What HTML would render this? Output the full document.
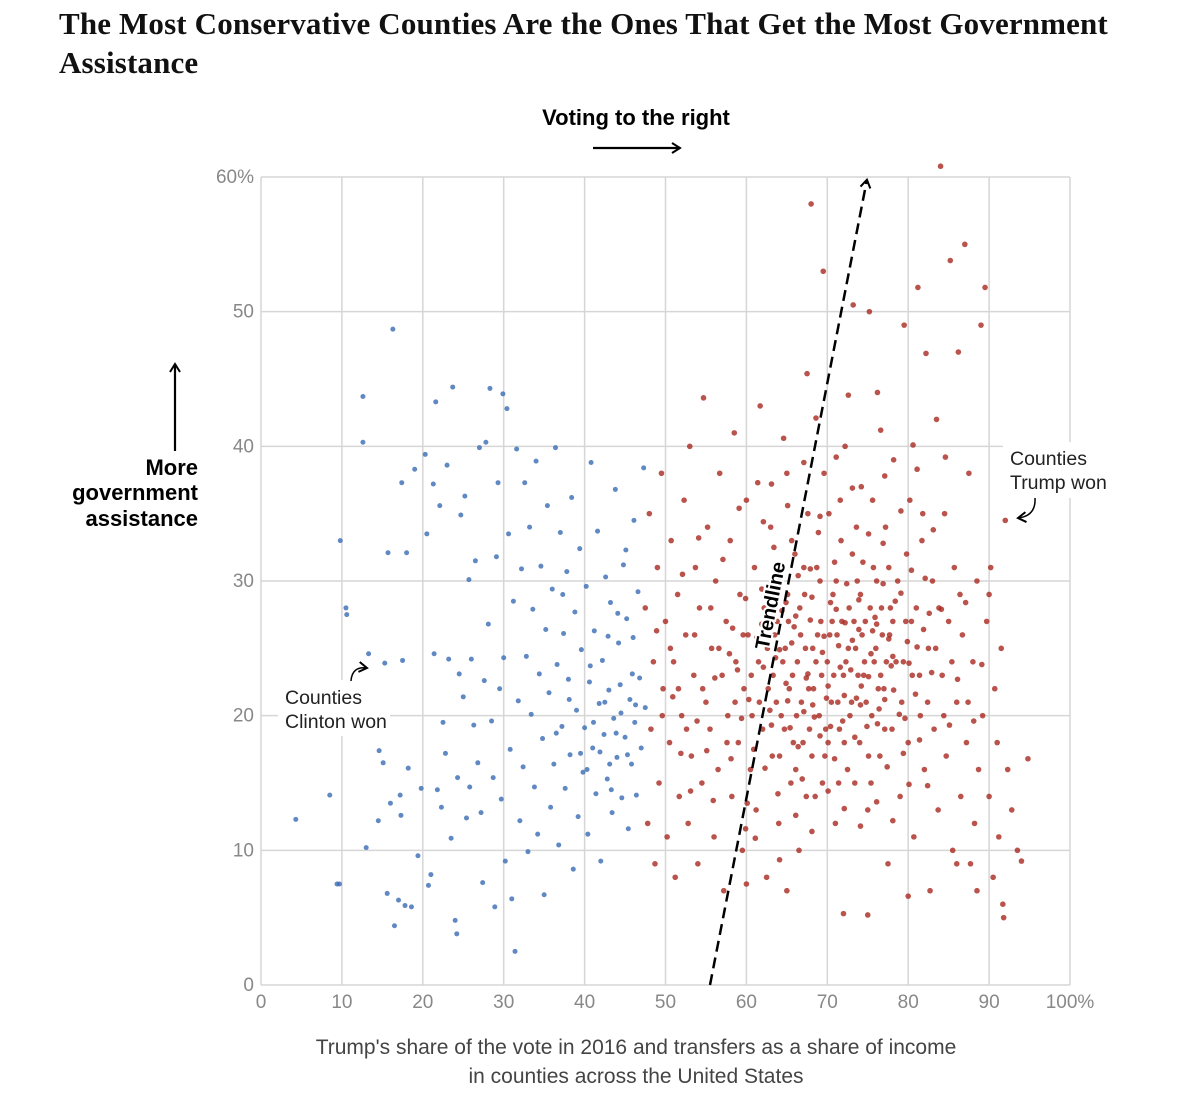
<!DOCTYPE html>
<html><head><meta charset="utf-8"><style>
body{margin:0;background:#fff;width:1200px;height:1102px;overflow:hidden;font-family:"Liberation Sans",sans-serif}
#title{position:absolute;left:59px;top:4px;width:1130px;font-family:"Liberation Serif",serif;font-weight:bold;font-size:31px;line-height:39px;letter-spacing:0.15px;color:#111;margin:0}
svg{position:absolute;left:0;top:0}
</style></head><body>
<h1 id="title">The Most Conservative Counties Are the Ones That Get the Most Government Assistance</h1>
<svg id="chart" width="1200" height="1102"></svg>
<script>
const xTicks=[0,10,20,30,40,50,60,70,80,90,100];
const yTicks=[0,10,20,30,40,50,60];
const clintonCounties=[[4.3,12.3],[8.5,14.1],[9.4,7.5],[9.7,7.5],[9.8,33],[10.5,28],[10.6,27.5],[12.6,43.7],[12.6,40.3],[13,10.2],[13.3,24.6],[14.5,12.2],[14.6,17.4],[15.1,16.5],[15.3,23.9],[15.6,6.8],[15.7,32.1],[16,13.5],[16.3,48.7],[16.5,4.4],[17,6.3],[17.2,14.1],[17.3,12.6],[17.4,37.3],[17.5,24.1],[17.8,5.9],[18,32.1],[18.2,16.1],[18.6,5.8],[19,38.3],[19.4,9.6],[19.8,14.6],[20.3,39.4],[20.5,33.5],[20.7,7.4],[21,8.2],[21.3,37.2],[21.4,24.6],[21.6,43.3],[21.8,14.5],[22.1,35.6],[22.3,13.2],[22.5,19.5],[22.8,17.2],[23,38.6],[23.2,24.2],[23.5,10.9],[23.7,44.4],[24,4.8],[24.2,3.8],[24.3,15.4],[24.5,23.1],[24.7,34.9],[25,21.4],[25.2,36.3],[25.4,12.4],[25.7,30.1],[25.8,14.7],[26,24.2],[26.3,19.3],[26.5,31.5],[26.8,16.5],[27,39.9],[27.2,12.8],[27.4,7.6],[27.6,22.6],[27.8,40.3],[28.1,26.8],[28.3,44.3],[28.5,19.6],[28.7,15.4],[28.9,5.8],[29.1,31.8],[29.3,37.3],[29.5,22],[29.7,13.8],[29.9,43.9],[30,24.3],[30.2,9.2],[30.4,42.8],[30.6,33.5],[30.8,17.5],[31,6.4],[31.2,28.5],[31.4,2.5],[31.6,39.8],[31.8,21.1],[32,12.2],[32.2,30.9],[32.4,16.2],[32.6,37.3],[32.8,24.4],[33,9.9],[33.2,34],[33.4,20.1],[33.6,27.9],[33.8,14.7],[34,38.9],[34.2,11.2],[34.4,23.1],[34.6,31.1],[34.8,18.3],[35,6.7],[35.2,26.4],[35.4,35.6],[35.6,21.7],[35.8,13.2],[36,29.4],[36.2,16.4],[36.4,39.9],[36.6,23.8],[36.8,10.4],[37,33.6],[37.2,19.2],[37.4,26.1],[37.6,14.6],[37.8,30.7],[38,22.7],[38.2,17.1],[38.4,36.2],[38.6,8.6],[38.8,27.7],[39,20.4],[39.2,12.5],[39.4,32.4],[39.6,24.9],[39.8,15.8],[40,19.1],[40.2,29.6],[40.4,11.2],[40.6,22.5],[40.8,38.8],[41,17.6],[41.2,26.3],[41.4,14.2],[41.6,33.7],[41.8,20.9],[42,9.2],[42.2,24.1],[42.4,18.6],[42.6,30.3],[42.8,15.3],[43,21.9],[43.2,28.4],[43.4,12.8],[43.6,19.8],[43.8,36.8],[44,16.9],[44.2,25.4],[44.4,22.3],[44.6,13.9],[44.8,31.2],[45,18.4],[45.2,27.2],[45.4,11.6],[45.6,21.2],[45.8,16.4],[46,25.8],[46.2,19.5],[46.4,14.1],[46.6,29.2],[46.8,22.8],[47,17.6],[47.3,38.4],[47.5,20.6],[39.5,17.2],[40.3,16],[41.1,19.5],[41.9,17.3],[42.5,21],[43.1,16.4],[43.9,18.7],[44.5,20.2],[45.3,17.1],[45.9,23.1],[46.3,20.8],[42.9,25.9],[44.1,27.6],[45.1,32.3],[46.1,34.5],[37.3,29],[38.1,21.2],[36.5,18.7],[40.7,23.7],[43.3,14.5]];
const trumpCounties=[[47.5,28],[47.8,12],[48,35],[48.2,19],[48.5,24],[48.7,9],[49,31],[49.2,15],[49.5,38],[49.7,22],[50,27],[50.2,11],[50.5,18],[50.7,33],[51,24],[51.2,8],[51.5,29],[51.7,14],[52,20],[52.3,36],[52.5,26],[52.8,12],[53,40],[53.2,17],[53.5,23],[53.7,31],[54,9],[54.2,28],[54.5,15],[54.7,43.6],[55,21],[55.2,34],[55.5,19],[55.7,25],[56,11],[56.2,30],[56.5,16],[56.7,38],[57,23],[57.2,7],[57.5,27],[57.7,20],[58,33],[58.2,14],[58.5,41],[58.7,24],[59,18],[59.2,29],[59.5,10],[59.7,22],[60,36],[60.2,26],[60.5,16],[60.7,20],[61,31],[61.2,13],[61.5,24],[61.7,43],[62,19],[62.2,28],[62.5,8],[62.7,22],[63,34],[63.2,17],[63.5,26],[63.7,21],[64,12],[64.2,30],[64.5,24],[64.7,19],[65,38],[65.2,27],[65.5,15],[65.7,23],[66,32],[66.2,20],[66.5,10],[66.7,26],[67,18],[67.2,29],[67.5,45.4],[67.7,22],[68,58],[68.2,25],[68.5,14],[68.7,31],[69,20],[69.2,27],[69.5,53],[69.7,17],[70,24],[70.2,35],[70.5,21],[70.7,29],[71,12],[71.2,26],[71.5,19],[71.7,33],[72,23],[72.2,40],[72.5,16],[72.7,28],[73,21],[73.2,50.5],[73.5,25],[73.7,30],[74,18],[74.2,37],[74.5,23],[74.7,27],[75,13],[75.2,50],[75.5,20],[75.7,31],[76,25],[76.2,44],[76.5,17],[76.7,28],[77,22],[77.2,34],[77.5,9],[77.7,26],[78,19],[78.2,39],[78.5,24],[78.7,30],[79,14],[79.2,21],[79.5,49],[79.7,27],[80,18],[80.2,36],[80.5,23],[80.7,11],[81,28],[81.2,51.8],[81.5,20],[81.7,33],[82,16],[82.2,46.9],[82.5,25],[82.7,7],[83,30],[83.2,19],[83.5,42],[83.7,13],[84,60.8],[84.2,23],[84.5,35],[84.7,17],[85,27],[85.2,53.8],[85.5,10],[85.7,31],[86,21],[86.2,47],[86.5,14],[86.7,26],[87,55],[87.2,18],[87.5,38],[87.7,9],[88,24],[88.2,12],[88.5,30],[88.7,16],[89,49],[89.2,20],[89.5,51.8],[89.7,27],[90,14],[90.2,31],[90.5,8],[90.7,22],[91,18],[91.2,11],[91.5,25],[91.7,6],[92,34.5],[92.3,16],[92.8,13],[93.5,10],[94,9.2],[94.8,16.8],[91.8,5],[86,9],[88.5,7],[90,29],[72,5.3],[75,5.2],[80,6.6],[65,7],[60,7.5],[63.3,23],[63.8,27],[64.3,20],[64.8,25],[65.3,22],[65.8,18],[66.3,24],[66.8,21],[67.3,25],[67.8,19],[68.3,22],[68.8,26],[69.3,23],[69.8,19],[70.3,26],[70.8,23],[71.3,21],[71.8,27],[72.3,24],[72.8,20],[73.3,27],[73.8,23],[74.3,26],[74.8,21],[75.3,28],[75.8,24],[76.3,22],[76.8,26],[77.3,24],[77.8,28],[64.1,17],[65.1,29],[66.1,16],[67.1,31],[68.1,17],[69.1,30],[70.1,18],[71.1,30],[72.1,18],[73.1,32],[74.1,29],[75.1,17],[76.1,30],[77.1,19],[78.1,27],[66.6,28],[68.6,24],[70.6,27],[72.6,25],[74.6,24],[76.6,23],[62.6,25],[61.6,21],[60.6,23],[59.6,26],[58.6,21],[57.6,18],[56.6,25],[55.6,28],[54.6,22],[53.6,26],[52.6,19],[51.6,22],[50.6,25],[49.6,20],[69.4,15],[71.4,15],[73.4,15],[67.4,14],[75.4,15],[79.4,24],[80.4,27],[81.4,23],[82.4,21],[83.4,25],[84.4,20],[85.4,24],[86.4,29],[87.4,21],[79.8,32],[81.8,35],[83.8,28],[73.6,34],[71.6,36],[69.6,38],[67.6,35],[75.6,36],[77.6,31],[65.6,33],[63.6,30],
[58.3,26.5],[58.9,23.4],[59.4,19.8],[59.9,28.7],[60.3,21.2],[60.9,17.5],[61.3,25.8],[61.9,29.4],[62.3,16.1],[62.9,20.4],[63.4,32.5],[63.9,14.2],[64.4,27.8],[64.9,22.4],[65.4,19.1],[65.9,26.6],[66.4,30.4],[66.9,15.3],[67.4,22.8],[67.9,27.1],[68.4,19.9],[68.9,33.6],[69.4,24.7],[69.9,21.3],[70.4,28.4],[70.9,16.8],[71.4,25.2],[71.9,19.6],[72.4,29.8],[72.9,23.4],[73.4,18.4],[73.9,26.4],[74.4,31.4],[74.9,19.2],[75.4,24.6],[75.9,27.3],[76.4,20.5],[76.9,32.8],[77.4,16.2],[77.9,23.7],[78.4,28.5],[78.9,20.1],[79.4,17.2],[79.9,25.5],[80.4,30.8],[80.9,21.6],[81.4,18.2],[81.9,26.4],[82.4,14.8],[82.9,23.2],
[62.1,23.6],[63.1,19.3],[64.1,24.9],[65.1,21.1],[66.1,27.4],[67.1,20.3],[68.1,28.8],[69.1,18.5],[70.1,22.2],[71.1,27.9],[72.1,21.5],[73.1,25.6],[74.1,20.8],[75.1,22.9],[76.1,26.8],[77.1,21.2],[78.1,24.4],[79.1,29.1],[80.1,23.9],[81.1,25.1],
[60.1,13.5],[61.1,10.9],[62.1,34.4],[63.1,37.2],[64.1,9.3],[65.1,35.6],[66.1,12.6],[67.1,38.8],[68.1,11.4],[69.1,34.8],[70.1,14.4],[71.1,39.2],[72.1,13.1],[73.1,36.9],[74.1,11.8],[75.1,33.5],[76.1,13.6],[77.1,37.8],[78.1,12.2],[79.1,35.2],[80.1,14.9],[81.1,38.3],[82.1,30.2],[83.1,33.8],[84.1,27.9],[85.1,19.3],[86.1,22.7],[87.1,28.4],[88.1,19.6],[89.1,23.8],
[52.1,30.5],[53.1,14.4],[54.1,33.2],[55.1,17.4],[56.1,22.8],[57.1,31.6],[58.1,16.8],[59.1,35.4],[48.9,26.3],[50.9,21.4],[51.9,17.2],[53.9,19.6],[55.9,13.7],[57.9,24.6],[59.9,11.6],[61.4,37.3],[64.6,40.6],[68.6,42.1],[72.6,43.8],[76.6,41.2],[80.6,40.1],[84.6,39.2],[66.4,17.7],[68.2,20.8],[70.4,19.2],[72.2,26.9],[74.2,22.2],[76.2,19.4],[78.2,21.9],[63.6,24.3],[65.6,25.4],[67.6,23.1],[69.6,25.9],[71.6,23.6],[73.6,21.3],[75.6,26.3],[77.6,25.7],[70.9,31.4],[73.9,28.6],[76.9,29.8],[67.9,30.9],[64.9,28.4],[61.9,26.8],[79.6,19.8],[82.6,27.6]];
const trendline=[[55.5,0],[74.9,59.8]];

const NS='http://www.w3.org/2000/svg';
const svg=document.getElementById('chart');
const X0=261,X1=1070,Y0=985,Y1=177;
const sx=v=>X0+(X1-X0)*v/100;
const sy=v=>Y0-(Y0-Y1)*v/60;
function mk(tag,attrs,parent){const e=document.createElementNS(NS,tag);for(const k in attrs)e.setAttribute(k,attrs[k]);(parent||svg).appendChild(e);return e;}

const grid=mk('g',{});


xTicks.forEach(t=>{
  const l=mk('line',{x1:sx(t),x2:sx(t),y1:Y1,y2:Y0,stroke:'#d6d6d6','stroke-width':1.5},grid);
  
  
  const tx=mk('text',{x:sx(t),y:1008,'text-anchor':'middle','font-size':19,fill:'#888'});
  tx.textContent=t===100?'100%':t;
  
  
});
yTicks.forEach(t=>{
  const l=mk('line',{x1:X0,x2:X1,y1:sy(t),y2:sy(t),stroke:'#d6d6d6','stroke-width':1.5},grid);
  
  
  const tx=mk('text',{x:254,y:sy(t)+6,'text-anchor':'end','font-size':19,fill:'#888'});
  tx.textContent=t===60?'60%':t;
  
  
});
const bg1=mk('rect',{x:278,y:680,width:112,height:56,fill:'#fff'});


const bg2=mk('rect',{x:1003,y:442,width:112,height:56,fill:'#fff'});



clintonCounties.forEach(p=>{
  const c=mk('circle',{cx:sx(p[0]),cy:sy(p[1]),r:2.5,fill:'#3d6eb5','fill-opacity':0.82});
  
  
});
trumpCounties.forEach(p=>{
  const c=mk('circle',{cx:sx(p[0]),cy:sy(p[1]),r:2.8,fill:'#a8281f','fill-opacity':0.8});
  
  
});

const defs=mk('defs',{});
const m=mk('marker',{id:'ah',markerWidth:12,markerHeight:12,refX:9,refY:6,orient:'auto',markerUnits:'userSpaceOnUse'},defs);
mk('path',{d:'M1,1 L9,6 L1,11',fill:'none',stroke:'#000','stroke-width':2},m);

const tl=mk('line',{x1:sx(trendline[0][0]),y1:sy(trendline[0][1]),x2:sx(trendline[1][0]),y2:sy(trendline[1][1]),stroke:'#000','stroke-width':2.5,'stroke-dasharray':'11,6','marker-end':'url(#ah)'});


const ang=Math.atan2(sy(trendline[1][1])-sy(trendline[0][1]),sx(trendline[1][0])-sx(trendline[0][0]))*180/Math.PI;
const tlx=sx(64.5),tly=sy(28);
const tlt=mk('text',{x:tlx,y:tly,'text-anchor':'middle','font-size':20,'font-weight':'bold',fill:'#000',transform:`rotate(${ang} ${tlx} ${tly}) translate(0,-6)`,stroke:'#fff','stroke-width':4,'paint-order':'stroke'});
tlt.textContent='Trendline';



function txt(s,x,y,attrs,name){const t=mk('text',Object.assign({x:x,y:y},attrs));t.textContent=s;return t;}
const B={'font-size':22,'font-weight':'bold',fill:'#000'};
txt('Voting to the right',636,125,Object.assign({'text-anchor':'middle'},B),'x-direction-label');
const a1=mk('line',{x1:593,y1:148,x2:680,y2:148,stroke:'#000','stroke-width':2.2,'marker-end':'url(#ah)'});


const a2=mk('line',{x1:175,y1:451,x2:175,y2:364,stroke:'#000','stroke-width':2.2,'marker-end':'url(#ah)'});


txt('More',198,475,Object.assign({'text-anchor':'end'},B),'y-direction-label-1');
txt('government',198,500,Object.assign({'text-anchor':'end'},B),'y-direction-label-2');
txt('assistance',198,526,Object.assign({'text-anchor':'end'},B),'y-direction-label-3');
const N={'font-size':19.5,fill:'#222'};
txt('Counties',1010,465,N,'trump-annotation-1');
txt('Trump won',1010,489,N,'trump-annotation-2');
txt('Counties',285,704,N,'clinton-annotation-1');
txt('Clinton won',285,728,N,'clinton-annotation-2');
const c1=mk('path',{d:'M351,681 Q352,666 367,668',fill:'none',stroke:'#000','stroke-width':1.5,'marker-end':'url(#ah)'});


const c2=mk('path',{d:'M1035,498 Q1036,516 1018,518',fill:'none',stroke:'#000','stroke-width':1.5,'marker-end':'url(#ah)'});


const G={'font-size':21,fill:'#444','text-anchor':'middle'};
txt("Trump's share of the vote in 2016 and transfers as a share of income",636,1054,G,'caption-line-1');
txt('in counties across the United States',636,1083,G,'caption-line-2');
</script>
</body></html>
